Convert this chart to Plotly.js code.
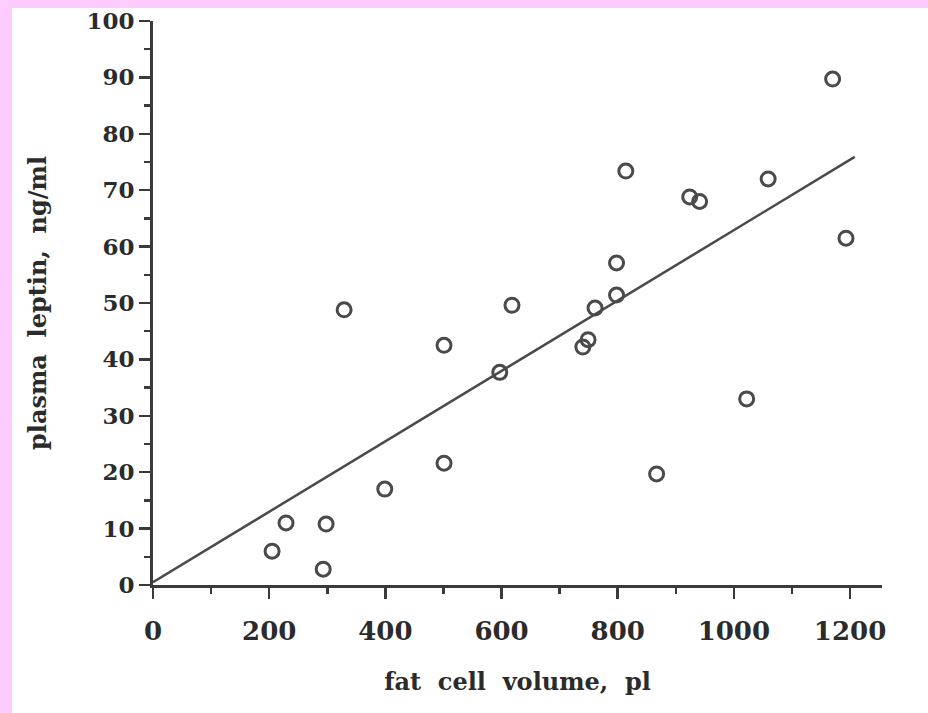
<!DOCTYPE html>
<html>
<head>
<meta charset="utf-8">
<script src="https://cdn.plot.ly/plotly-3.0.1.min.js"></script>
<style>
  html, body { margin: 0; padding: 0; background: #FFCCFF; width: 928px; height: 713px; overflow: hidden; }
  #chart { position: absolute; left: 12px; top: 8px; width: 916px; height: 705px; background: #ffffff; }
</style>
</head>
<body>
<div id="chart"></div>
<script>
// Data
const fatCellVolume = [205, 229, 298, 293, 399, 501, 501, 329, 597, 618, 740, 749, 761, 798, 798, 814, 867, 924, 941, 1022, 1059, 1170, 1193];
const plasmaLeptin  = [6.0, 11.0, 10.8, 2.8, 17.0, 21.6, 42.5, 48.8, 37.7, 49.6, 42.2, 43.5, 49.1, 57.1, 51.4, 73.4, 19.7, 68.8, 68.0, 33.0, 72.0, 89.7, 61.5];

// Regression line end points
const fitX = [0, 1208];
const fitY = [0.5, 75.9];

// Tick labels
const xTickVals = [0, 200, 400, 600, 800, 1000, 1200];
const xTickText = ['0', '200', '400', '600', '800', '1000', '1200'];
const yTickVals = [0, 10, 20, 30, 40, 50, 60, 70, 80, 90, 100];
const yTickText = ['0', '10', '20', '30', '40', '50', '60', '70', '80', '90', '100'];

const ink = '#3a3a3a';
const fontFamily = 'DejaVu Serif, Liberation Serif, serif';

const traces = [
  {
    x: fitX, y: fitY, type: 'scatter', mode: 'lines',
    line: { color: '#4a4a4a', width: 2.5 },
    hoverinfo: 'skip', showlegend: false, cliponaxis: false
  },
  {
    x: fatCellVolume, y: plasmaLeptin, type: 'scatter', mode: 'markers',
    marker: { symbol: 'circle-open', size: 14, color: '#4a4a4a', line: { width: 3, color: '#4a4a4a' } },
    showlegend: false, cliponaxis: false
  }
];

const sp = '\u00A0\u00A0';
const layout = {
  width: 916, height: 705,
  margin: { l: 141, r: 46, t: 13, b: 128 },
  paper_bgcolor: '#ffffff', plot_bgcolor: '#ffffff',
  showlegend: false,
  xaxis: {
    range: [0, 1255], showgrid: false, zeroline: false,
    showline: true, linecolor: ink, linewidth: 3,
    tickmode: 'array', tickvals: xTickVals, ticktext: xTickText,
    ticks: 'outside', ticklen: 11, tickwidth: 2.5, tickcolor: ink,
    ticklabelstandoff: 10, ticklabeloverflow: 'allow',
    minor: { dtick: 100, ticks: 'outside', ticklen: 6, tickwidth: 2.5, tickcolor: ink, showgrid: false },
    tickfont: { family: fontFamily, size: 26, weight: 'bold', color: '#2b2b2b' },
    title: { text: 'fat' + sp + 'cell' + sp + 'volume,' + sp + 'pl', standoff: 28,
             font: { family: fontFamily, size: 24, weight: 'bold', color: '#2b2b2b' } },
    automargin: false, fixedrange: true
  },
  yaxis: {
    range: [0, 100], showgrid: false, zeroline: false,
    showline: true, linecolor: ink, linewidth: 3,
    tickmode: 'array', tickvals: yTickVals, ticktext: yTickText,
    ticks: 'outside', ticklen: 11, tickwidth: 2.5, tickcolor: ink,
    ticklabelstandoff: 0, ticklabeloverflow: 'allow',
    minor: { dtick: 5, ticks: 'outside', ticklen: 6, tickwidth: 2.5, tickcolor: ink, showgrid: false },
    tickfont: { family: fontFamily, size: 23, weight: 'bold', color: '#2b2b2b' },
    title: { text: 'plasma' + sp + 'leptin,' + sp + 'ng/ml', standoff: 33,
             font: { family: fontFamily, size: 24, weight: 'bold', color: '#2b2b2b' } },
    automargin: false, fixedrange: true
  }
};

Plotly.newPlot('chart', traces, layout, { displayModeBar: false, staticPlot: true });
</script>
</body>
</html>
